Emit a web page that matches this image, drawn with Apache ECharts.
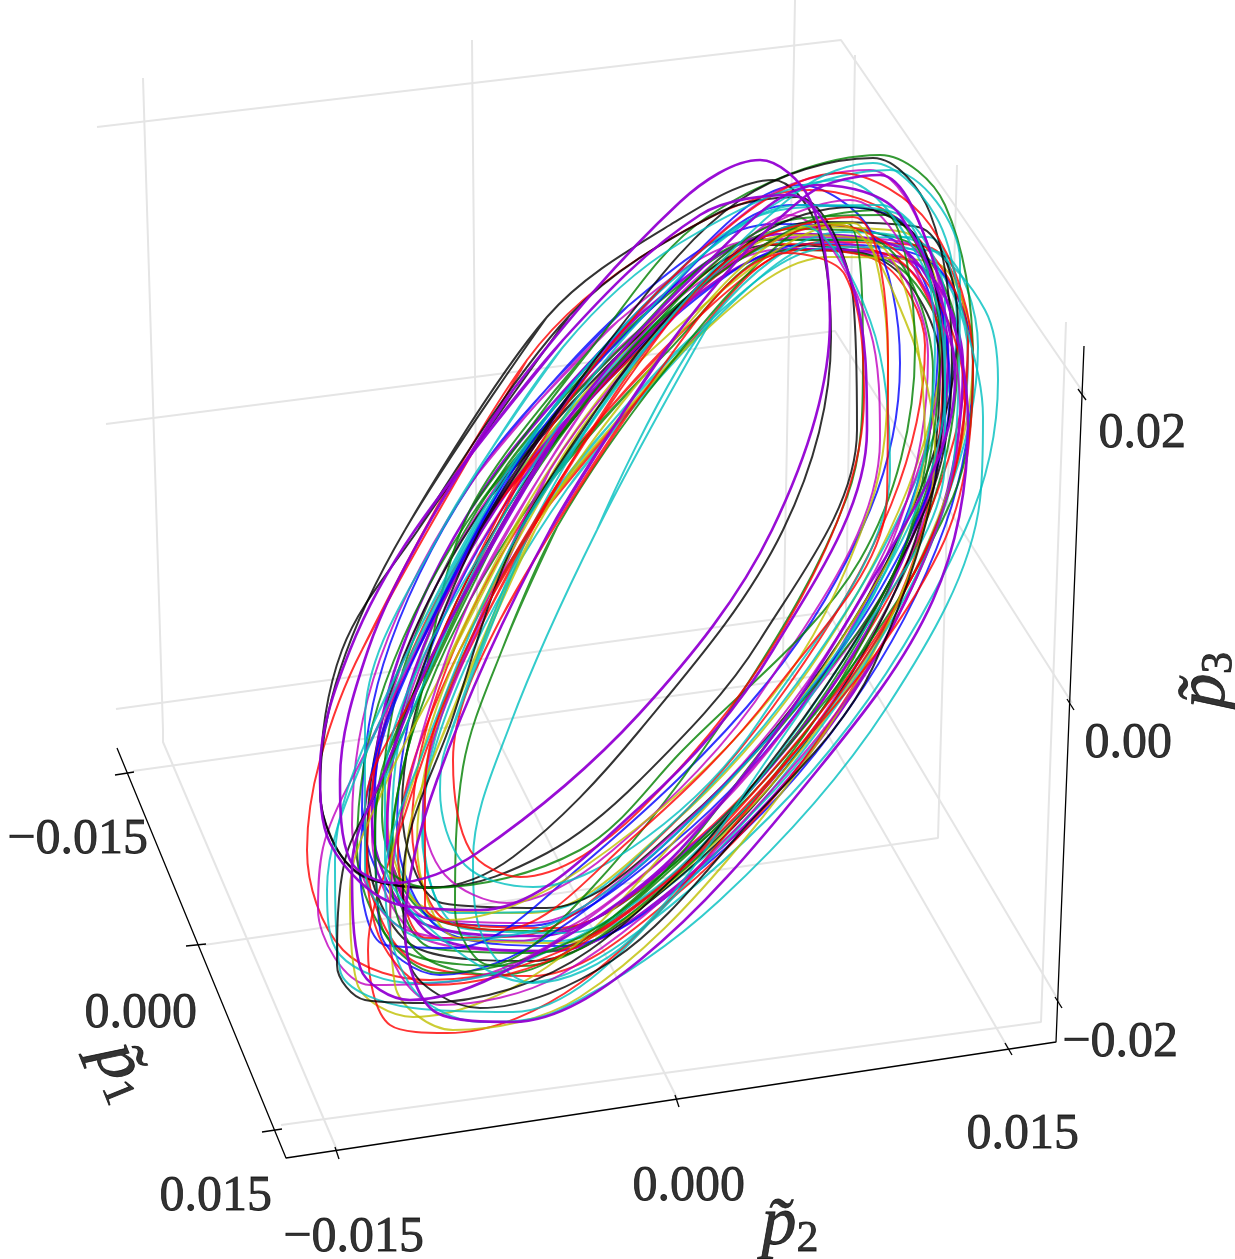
<!DOCTYPE html>
<html>
<head>
<meta charset="utf-8">
<title>Phase space orbits</title>
<script src="https://cdn.jsdelivr.net/npm/echarts@6/dist/echarts.min.js"></script>
<style>
html, body { margin: 0; padding: 0; background: #ffffff; }
#chart { width: 1235px; height: 1259px; }
</style>
</head>
<body>
<div id="chart"></div>
<script>
const p1TickLabels = ['\u22120.015', '0.000', '0.015']
const p2TickLabels = ['\u22120.015', '0.000', '0.015']
const p3TickLabels = ['0.02', '0.00', '\u22120.02']

// pale panes and floor grid
const gridP2Back = [[[143, 78], [163, 730], [163, 742], [337, 1150]], [[472, 40], [478, 700], [678, 1100]], [[795, 0], [783, 657], [1008, 1048]]]
const gridP3Left = [[[97, 127], [841, 40], [1085, 395]], [[106, 424], [835, 331], [1072, 703]], [[116, 709], [828, 612], [1060, 1003]]]
const gridP1Floor = [[[133, 771], [845, 672], [855, 55]], [[204, 945], [938, 838], [957, 165]], [[281, 1125], [1041, 1022], [1066, 322]]]

// black axes and ticks
const axisLines = [
  [[117, 748], [286, 1158], [1056, 1042], [1084, 346]],
  [[115, 775], [134, 772]], [[186, 946], [206, 944]], [[262, 1132], [282, 1129]],
  [[335, 1147], [339, 1159]], [[675, 1095], [679, 1107]], [[1005, 1043], [1012, 1055]],
  [[1078, 389], [1086, 400]], [[1067, 699], [1074, 710]], [[1055, 997], [1062, 1008]]
]

// orbits traced at the edges of the bundle
const black1 = [[405, 530], [547, 317], [670, 225], [773, 180], [815, 222], [831, 337], [783, 530], [640, 730], [513, 857], [430, 888], [352, 868], [320, 790], [340, 670]]
const black2 = [[418, 530], [570, 315], [720, 212], [797, 197], [853, 297], [857, 430], [760, 640], [640, 780], [547, 853], [440, 887], [360, 875], [320, 790], [342, 650]]
const black3 = [[480, 530], [610, 340], [740, 200], [873, 158], [930, 213], [952, 363], [925, 510], [780, 750], [590, 950], [423, 1003], [365, 1000], [337, 965], [345, 860], [380, 783]]
const black4 = [[520, 530], [640, 350], [760, 235], [853, 207], [923, 247], [943, 397], [873, 667], [740, 833], [613, 960], [480, 1008], [410, 965], [403, 880], [453, 717]]
const violet1 = [[425, 530], [513, 390], [680, 202], [760, 160], [810, 200], [830, 320], [772, 530], [640, 713], [477, 853], [393, 883], [350, 860], [340, 780], [368, 650]]
const violet2 = [[415, 530], [563, 340], [700, 215], [790, 195], [853, 287], [867, 430], [773, 650], [640, 807], [480, 910], [400, 905], [330, 843], [320, 770], [350, 650]]
const violet3 = [[550, 530], [680, 330], [807, 195], [880, 175], [940, 280], [968, 423], [933, 600], [807, 783], [640, 960], [513, 1022], [437, 1013], [405, 930], [437, 780]]
const violet4 = [[440, 640], [560, 430], [700, 270], [820, 185], [900, 215], [955, 380], [860, 600], [680, 850], [513, 967], [410, 1000], [360, 967], [352, 867], [385, 770]]
const red1 = [[362, 650], [527, 360], [660, 245], [810, 190], [905, 225], [968, 340], [935, 530], [790, 750], [600, 930], [430, 980], [343, 950], [307, 850], [320, 760]]
const red2 = [[453, 683], [560, 480], [700, 290], [835, 225], [925, 280], [965, 400], [900, 600], [730, 830], [580, 983], [447, 1033], [390, 1025], [368, 950], [400, 830]]
const red3 = [[500, 620], [640, 397], [787, 253], [845, 275], [864, 397], [800, 600], [640, 810], [520, 877], [470, 850], [453, 760]]
const red4 = [[420, 683], [530, 460], [680, 270], [840, 173], [930, 225], [973, 363], [940, 550], [767, 783], [580, 945], [430, 985], [375, 925], [365, 810]]
const red6 = [[490, 600], [620, 390], [740, 250], [853, 217], [888, 357], [887, 497], [775, 690], [630, 840], [500, 930], [425, 905], [425, 790]]
const cyan1 = [[597, 530], [713, 317], [843, 232], [925, 245], [985, 310], [998, 380], [965, 530], [830, 750], [640, 930], [530, 982], [480, 930], [473, 860], [510, 725]]
const cyan2 = [[360, 767], [480, 520], [620, 330], [780, 210], [880, 205], [945, 300], [945, 460], [850, 650], [680, 867], [513, 967], [413, 983], [340, 955], [327, 890]]
const cyan3 = [[375, 720], [495, 490], [630, 320], [790, 195], [890, 170], [960, 260], [955, 450], [880, 640], [690, 880], [513, 1012], [413, 1008], [340, 970], [335, 860]]
const cyan4 = [[445, 750], [530, 530], [660, 330], [800, 225], [870, 320], [890, 470], [760, 720], [647, 837], [533, 887], [465, 865], [440, 790]]
const cyan5 = [[385, 780], [490, 540], [640, 320], [800, 205], [900, 215], [935, 350], [895, 550], [760, 770], [630, 940], [533, 983], [447, 943], [385, 860]]
const cyan7 = [[443, 528], [563, 347], [680, 243], [840, 180], [925, 270], [945, 390], [870, 600], [720, 790], [560, 920], [430, 940], [365, 870], [365, 720]]
const cyan8 = [[520, 530], [660, 330], [800, 190], [873, 163], [935, 215], [962, 310], [983, 417], [980, 500], [887, 707], [720, 900], [560, 1010], [480, 1022], [410, 985], [385, 880], [420, 760]]
const green1 = [[470, 510], [590, 350], [707, 217], [880, 155], [945, 205], [973, 363], [953, 497], [830, 695], [650, 885], [500, 975], [415, 950], [390, 860], [420, 700]]
const green2 = [[502, 650], [557, 527], [663, 373], [790, 235], [847, 223], [863, 363], [847, 497], [737, 700], [590, 890], [490, 965], [455, 910], [463, 767]]
const green3 = [[385, 760], [505, 520], [650, 330], [800, 225], [880, 210], [915, 350], [860, 560], [680, 753], [580, 850], [430, 888], [375, 850]]
const green4 = [[400, 740], [510, 510], [640, 340], [790, 220], [885, 215], [940, 340], [900, 560], [770, 740], [613, 917], [440, 973], [380, 920], [375, 820]]
const yellow1 = [[437, 683], [530, 500], [650, 340], [790, 235], [880, 245], [925, 440], [835, 650], [680, 835], [547, 967], [413, 1017], [357, 983], [350, 890], [385, 785]]
const yellow2 = [[460, 650], [580, 430], [710, 300], [840, 225], [905, 320], [935, 450], [885, 630], [740, 845], [580, 997], [453, 1030], [395, 985], [390, 880], [420, 760]]
const yellow3 = [[417, 800], [535, 530], [670, 345], [790, 232], [853, 223], [888, 363], [870, 507], [773, 695], [580, 870], [447, 920], [405, 880]]
const blue1 = [[417, 650], [530, 440], [660, 290], [800, 185], [870, 230], [900, 363], [870, 510], [767, 683], [580, 867], [453, 948], [385, 945], [360, 867], [377, 750]]
const blue2 = [[400, 690], [505, 480], [650, 310], [790, 205], [900, 220], [950, 390], [880, 590], [720, 790], [550, 935], [440, 975], [380, 930], [375, 790]]
const magenta1 = [[363, 757], [480, 530], [620, 335], [770, 195], [870, 170], [945, 330], [920, 520], [780, 735], [613, 900], [463, 980], [370, 985], [318, 910], [325, 840]]
const magenta2 = [[440, 720], [550, 470], [700, 290], [790, 215], [870, 330], [880, 440], [770, 680], [613, 850], [507, 903], [445, 875], [423, 810]]
const magenta3 = [[470, 600], [590, 400], [730, 250], [850, 200], [945, 330], [960, 410], [890, 630], [730, 835], [560, 975], [440, 1005], [390, 945], [400, 820]]

// orbits estimated inside the dense part of the bundle
const inner1 = [[507, 465], [648, 311], [794, 229], [908, 242], [958, 345], [930, 511], [833, 695], [692, 849], [546, 931], [432, 918], [382, 815], [410, 649]]
const inner2 = [[487, 460], [628, 306], [774, 224], [888, 237], [938, 340], [910, 506], [813, 690], [672, 844], [526, 926], [412, 913], [362, 810], [390, 644]]
const inner3 = [[547, 484], [685, 329], [824, 242], [928, 247], [968, 342], [933, 503], [833, 686], [695, 841], [556, 928], [452, 923], [412, 828], [447, 667]]
const inner4 = [[517, 475], [658, 321], [804, 239], [918, 252], [968, 355], [940, 521], [843, 705], [702, 859], [556, 941], [442, 928], [392, 825], [420, 659]]
const inner5 = [[497, 485], [638, 331], [784, 249], [898, 262], [948, 365], [920, 531], [823, 715], [682, 869], [536, 951], [422, 938], [372, 835], [400, 669]]
const inner6 = [[522, 469], [660, 314], [799, 227], [903, 232], [943, 327], [908, 488], [808, 671], [670, 826], [531, 913], [427, 908], [387, 813], [422, 652]]
const inner7 = [[492, 495], [633, 341], [770, 245], [885, 262], [940, 365], [915, 541], [818, 725], [677, 879], [531, 961], [417, 948], [367, 845], [395, 679]]
const inner8 = [[512, 485], [653, 331], [799, 249], [913, 262], [963, 365], [935, 531], [838, 715], [697, 869], [551, 951], [437, 938], [387, 835], [415, 669]]
const inner9 = [[527, 509], [665, 354], [790, 250], [890, 262], [948, 367], [913, 528], [813, 711], [675, 866], [536, 953], [432, 948], [392, 853], [427, 692]]
const inner10 = [[542, 514], [677, 357], [800, 250], [880, 262], [925, 345], [891, 505], [788, 686], [653, 843], [520, 936], [427, 938], [398, 850], [439, 695]]
const inner11 = [[567, 489], [702, 332], [835, 239], [928, 237], [957, 325], [916, 480], [813, 661], [678, 818], [545, 911], [452, 913], [423, 825], [464, 670]]
const inner12 = [[477, 475], [618, 321], [764, 239], [878, 252], [928, 355], [900, 521], [803, 705], [662, 859], [516, 941], [402, 928], [352, 825], [380, 659]]
const inner13 = [[552, 499], [690, 344], [829, 257], [933, 262], [973, 357], [938, 518], [838, 701], [700, 856], [561, 943], [457, 938], [417, 843], [452, 682]]
const inner14 = [[537, 464], [675, 309], [814, 222], [918, 227], [958, 322], [923, 483], [823, 666], [685, 821], [546, 908], [442, 903], [402, 808], [437, 647]]
const inner15 = [[522, 480], [663, 326], [809, 244], [923, 257], [973, 360], [945, 526], [848, 710], [707, 864], [561, 946], [447, 933], [397, 830], [425, 664]]
const inner16 = [[482, 500], [623, 346], [760, 240], [870, 240], [933, 370], [905, 546], [808, 730], [667, 884], [521, 966], [407, 953], [357, 850], [385, 684]]
const inner17 = [[492, 510], [633, 356], [779, 244], [893, 257], [943, 360], [915, 556], [818, 740], [677, 894], [531, 976], [417, 963], [367, 860], [395, 694]]
const inner18 = [[557, 489], [695, 334], [834, 247], [938, 252], [978, 347], [943, 508], [843, 691], [705, 846], [566, 933], [462, 928], [422, 833], [457, 672]]
const inner19 = [[522, 479], [660, 324], [799, 237], [903, 242], [943, 337], [908, 498], [808, 681], [670, 836], [531, 923], [427, 918], [387, 823], [422, 662]]
const inner20 = [[497, 470], [638, 316], [784, 234], [898, 247], [948, 350], [920, 516], [823, 700], [682, 854], [536, 936], [422, 923], [372, 820], [400, 654]]

const BLUE = '#0000ff'
const GREEN = '#008000'
const RED = '#ff0000'
const CYAN = '#00bfbf'
const MAGENTA = '#bf00bf'
const YELLOW = '#bfbf00'
const BLACK = '#000000'
const VIOLET = '#9400d3'

// same order as a plotting colour cycle, violet ends up on top
const orbits = [
  [inner2, BLUE], [inner1, GREEN], [inner3, RED], [inner4, CYAN], [inner5, MAGENTA], [inner6, YELLOW], [inner7, BLACK], [inner8, VIOLET],
  [inner15, BLUE], [inner9, GREEN], [inner10, RED], [inner11, CYAN], [inner12, MAGENTA], [inner13, YELLOW], [inner14, BLACK], [inner20, VIOLET],
  [inner16, GREEN], [inner17, RED], [inner18, CYAN], [inner19, MAGENTA],
  [blue1, BLUE], [green1, GREEN], [red1, RED], [cyan1, CYAN], [magenta1, MAGENTA], [yellow1, YELLOW], [black1, BLACK],
  [blue2, BLUE], [green2, GREEN], [red2, RED], [cyan2, CYAN], [magenta2, MAGENTA], [yellow2, YELLOW], [black2, BLACK],
  [green3, GREEN], [red3, RED], [cyan3, CYAN], [magenta3, MAGENTA], [yellow3, YELLOW], [black3, BLACK],
  [green4, GREEN], [red4, RED], [cyan4, CYAN], [black4, BLACK],
  [cyan5, CYAN], [red6, RED], [cyan7, CYAN], [cyan8, CYAN],
  [violet1, VIOLET], [violet2, VIOLET], [violet3, VIOLET], [violet4, VIOLET]
]

const SERIF = '"Liberation Serif", serif'

function lineSeries (points, color, width, opacity, smooth) {
  return {
    type: 'line',
    data: points,
    symbol: 'none',
    silent: true,
    animation: false,
    clip: false,
    smooth: smooth,
    lineStyle: { color: color, width: width, opacity: opacity }
  }
}

// one invisible point that only carries a piece of text
function textSeries (anchor, text, fontSize, extra) {
  return {
    type: 'scatter',
    data: [anchor],
    symbolSize: 0,
    silent: true,
    animation: false,
    clip: false,
    label: Object.assign({
      show: true,
      position: [0, 0],
      formatter: text,
      fontFamily: SERIF,
      fontSize: fontSize,
      color: '#000000',
      textBorderColor: '#000000',
      textBorderWidth: 0.8,
      align: 'right',
      verticalAlign: 'middle'
    }, extra || {})
  }
}

const series = []
gridP2Back.concat(gridP3Left, gridP1Floor).forEach(function (g) {
  series.push(lineSeries(g, '#e5e5e5', 2, 1, false))
})
axisLines.forEach(function (a) {
  series.push(lineSeries(a, '#000000', 1.3, 1, false))
})
orbits.forEach(function (o) {
  const isViolet = o[1] === VIOLET
  // the loops are closed: run over the first two points again so the join stays smooth
  series.push(lineSeries(o[0].concat(o[0].slice(0, 2)), o[1], isViolet ? 2.6 : 2, isViolet ? 0.95 : 0.8, 0.34))
})

// right edges of the tick labels
series.push(textSeries([148, 840], p1TickLabels[0], 50))
series.push(textSeries([197, 1014], p1TickLabels[1], 50))
series.push(textSeries([272, 1197], p1TickLabels[2], 50))
series.push(textSeries([424, 1238], p2TickLabels[0], 50))
series.push(textSeries([745, 1187], p2TickLabels[1], 50))
series.push(textSeries([1079, 1135], p2TickLabels[2], 50))
series.push(textSeries([1186, 434], p3TickLabels[0], 50))
series.push(textSeries([1172, 744], p3TickLabels[1], 50))
series.push(textSeries([1178, 1043], p3TickLabels[2], 50))

const axisTitleRich = {
  p: { fontFamily: SERIF, fontStyle: 'italic', fontSize: 70, color: '#000000' },
  s: { fontFamily: SERIF, fontSize: 44, color: '#000000', verticalAlign: 'bottom', padding: [24, 0, 0, 0] }
}
series.push(textSeries([790, 1226], '{p|p\u0303}{s|2}', 70, { align: 'center', rich: axisTitleRich }))
series.push(textSeries([122, 1072], '{p|p\u0303}{s|1}', 70, { align: 'center', rotate: -68, rich: axisTitleRich }))
series.push(textSeries([1206, 680], '{p|p\u0303}{s|3}', 70, { align: 'center', rotate: 88, rich: axisTitleRich }))

const chart = echarts.init(document.getElementById('chart'), null, { renderer: 'canvas' })
chart.setOption({
  backgroundColor: '#ffffff',
  animation: false,
  grid: { left: 0, right: 0, top: 0, bottom: 0 },
  xAxis: { type: 'value', min: 0, max: 1235, show: false },
  yAxis: { type: 'value', min: 0, max: 1259, inverse: true, show: false },
  series: series
})
</script>
</body>
</html>
